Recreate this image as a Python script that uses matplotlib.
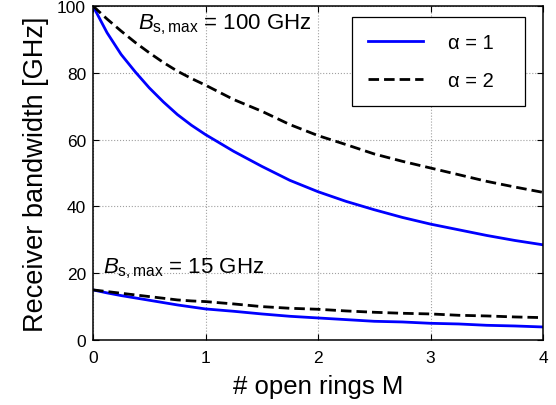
import matplotlib
matplotlib.use("Agg")
import matplotlib.pyplot as plt

# ---- data ----
M = [0, 0.125, 0.25, 0.375, 0.5, 0.625, 0.75, 0.875, 1.0, 1.25, 1.5, 1.75, 2.0, 2.25, 2.5, 2.75,
     3.0, 3.25, 3.5, 3.75, 4.0]
bw100_a1 = [100, 92.0, 85.5, 80.3, 75.5, 71.3, 67.5, 64.3, 61.5, 56.5, 52.0, 47.8, 44.4, 41.5,
            39.0, 36.7, 34.7, 33.0, 31.3, 29.8, 28.5]
bw100_a2 = [100, 96.1, 92.5, 89.1, 86.0, 83.1, 80.5, 78.3, 76.3, 72.0, 68.5, 64.5, 61.2, 58.5,
            55.7, 53.5, 51.5, 49.5, 47.5, 45.8, 44.2]
bw15_a1 = [15.0, 14.1, 13.3, 12.6, 11.9, 11.2, 10.5, 9.9, 9.3, 8.6, 7.8, 7.1, 6.6, 6.1, 5.6, 5.4,
           5.0, 4.8, 4.4, 4.2, 3.9]
bw15_a2 = [15.0, 14.5, 14.0, 13.5, 13.0, 12.5, 12.0, 11.7, 11.5, 10.8, 10.0, 9.5, 9.2, 8.7, 8.3,
           8.0, 7.8, 7.4, 7.2, 6.9, 6.7]
xticks = [0, 1, 2, 3, 4]
yticks = [0, 20, 40, 60, 80, 100]
legend_labels = ["α = 1", "α = 2"]
annot_hi = r"$B_{\mathrm{s,max}}$ = 100 GHz"
annot_lo = r"$B_{\mathrm{s,max}}$ = 15 GHz"

plt.rcParams['font.family'] = ['Liberation Sans', 'DejaVu Sans']
plt.rcParams['mathtext.fontset'] = 'custom'
plt.rcParams['mathtext.rm'] = 'Liberation Sans'
plt.rcParams['mathtext.it'] = 'Liberation Sans:italic'

fig = plt.figure(figsize=(5.56, 4.06), dpi=100)
ax = fig.add_axes([93/556, 1-341/406, 450/556, 334/406])

dash = (3.8, 1.8)
l1, = ax.plot(M, bw100_a1, color='#0000ff', lw=2.0, label=legend_labels[0])
l2, = ax.plot(M, bw100_a2, color='black', lw=2.0, ls=(0, dash), label=legend_labels[1])
ax.plot(M, bw15_a1, color='#0000ff', lw=2.0)
ax.plot(M, bw15_a2, color='black', lw=2.0, ls=(0, dash))

ax.set_xlim(0, 4)
ax.set_ylim(0, 100)
ax.set_xticks(xticks)
ax.set_yticks(yticks)
ax.grid(True, color='#a0a0a0', ls=':', lw=0.8)
ax.tick_params(direction='in', top=True, right=True, length=4, width=0.8,
               labelsize=12.5, pad=5)
ax.tick_params(axis='x', pad=7)
for s in ax.spines.values():
    s.set_linewidth(1.1)

ax.set_xlabel("# open rings M", fontsize=18.5, labelpad=7)
ax.set_ylabel("Receiver bandwidth [GHz]", fontsize=19.5, labelpad=6)

ax.text(0.4, 94.6, annot_hi, fontsize=16, va='center', ha='left')
ax.text(0.09, 21.6, annot_lo, fontsize=16, va='center', ha='left')

leg = ax.legend(handles=[l1, l2], loc='upper left',
                bbox_to_anchor=(0.5756, 0.7186, 0.3844, 0.2484), mode='expand',
                borderaxespad=0, fontsize=14.5, frameon=True, fancybox=False,
                edgecolor='black', framealpha=1, handlelength=2.7, handletextpad=1.25,
                borderpad=0.8, labelspacing=0.95)
leg.get_frame().set_linewidth(0.9)

fig.savefig("out.png", dpi=100)
